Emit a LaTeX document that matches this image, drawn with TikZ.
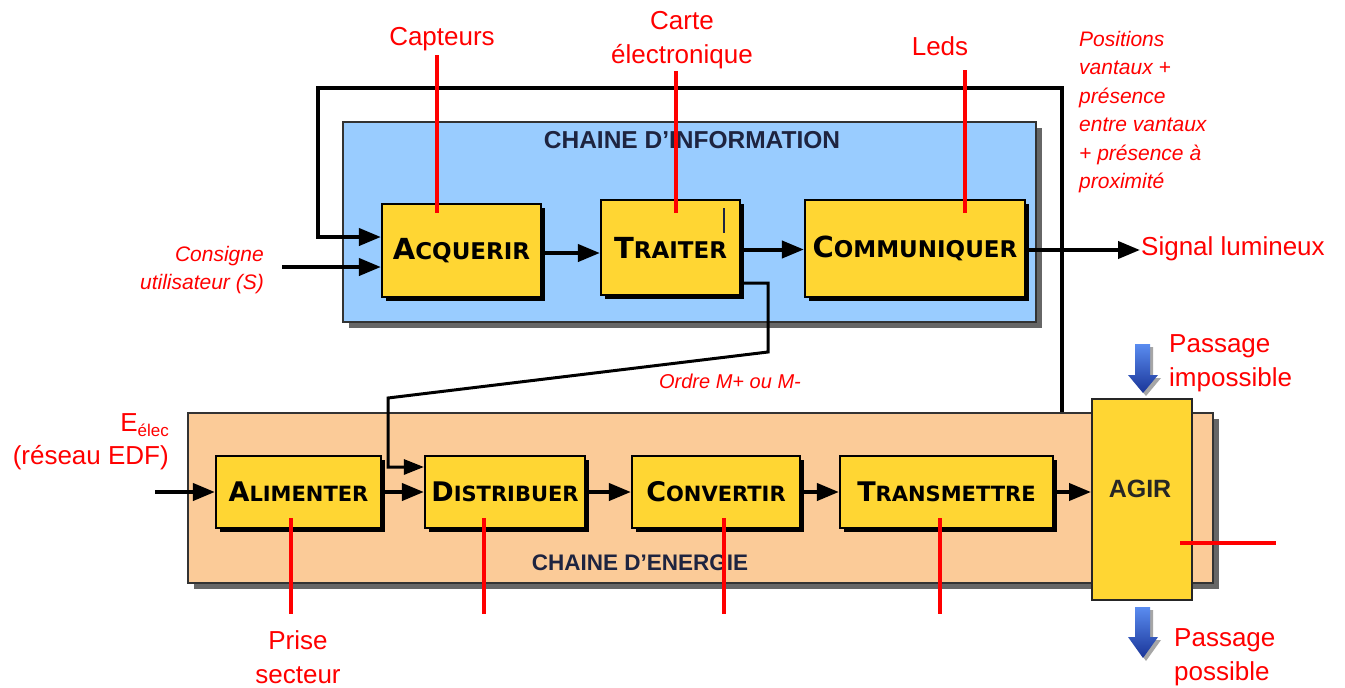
\documentclass[tikz,border=0pt]{standalone}
\usepackage{fontspec}
\setmainfont{Liberation Sans}
\newfontfamily\boxfont{DejaVu Sans}
\usetikzlibrary{arrows.meta,shadows}
\definecolor{boxyellow}{HTML}{FFD633}
\definecolor{infoblue}{HTML}{99CCFF}
\definecolor{energyorange}{HTML}{FBCB98}
\definecolor{navytitle}{HTML}{1E2440}
\definecolor{labelred}{HTML}{FF0000}
\definecolor{arrowblueA}{HTML}{5A8CF0}
\definecolor{arrowblueB}{HTML}{1A3598}
\newcommand\bigsc[2]{{\fontsize{29}{30}\selectfont #1}{\fontsize{23}{30}\selectfont #2}}
\newcommand\lowsc[2]{{\fontsize{27}{30}\selectfont #1}{\fontsize{21}{30}\selectfont #2}}
\begin{document}
\begin{tikzpicture}[x=1pt,y=-1pt,
  chainbox/.style={draw=black!80, line width=1.5pt, inner sep=0pt,
    drop shadow={shadow xshift=6pt, shadow yshift=-6pt, fill=black!60, opacity=1}},
  fblock/.style={draw=black, line width=2.2pt, fill=boxyellow, inner sep=0pt,
    font=\boxfont\bfseries,
    drop shadow={shadow xshift=4pt, shadow yshift=-4pt, fill=black, opacity=1}},
  arr/.style={line width=4pt, -{Triangle[length=22pt,width=17pt]}},
  redl/.style={draw=labelred, line width=3.5pt},
  lbl/.style={text=labelred, font=\fontsize{26}{34}\selectfont, inner sep=1pt, align=center},
  ilbl/.style={text=labelred, font=\itshape\fontsize{21}{28.4}\selectfont, inner sep=1pt},
  titletext/.style={text=navytitle, font=\bfseries\fontsize{22}{24}\selectfont, inner sep=0pt}
]
\useasboundingbox[fill=white] (0,0) rectangle (1345,688);

% chain frames
\node[chainbox, fill=infoblue, minimum width=693pt, minimum height=200pt] (info) at (689.5,222) {};
\node[chainbox, fill=energyorange, minimum width=1025pt, minimum height=170pt] (energy) at (700.5,498) {};
\node[titletext, font=\bfseries\fontsize{24.5}{26}\selectfont] (infotitle) at (692,140) {CHAINE D'INFORMATION};
\node[titletext, font=\bfseries\fontsize{22.5}{24}\selectfont] (entitle) at (640,563) {CHAINE D’ENERGIE};

% function blocks
\node[fblock, minimum width=159pt, minimum height=93pt] (acq) at (461.5,250.5) {\bigsc{A}{CQUERIR}};
\node[fblock, minimum width=139pt, minimum height=95pt] (tra) at (670.5,247.5) {\bigsc{T}{RAITER}};
\node[fblock, minimum width=220pt, minimum height=97pt] (com) at (915,248.5) {\bigsc{C}{OMMUNIQUER}};
\node[fblock, minimum width=165pt, minimum height=72pt] (ali) at (298.5,492) {\lowsc{A}{LIMENTER}};
\node[fblock, minimum width=160pt, minimum height=72pt] (dis) at (505,492) {\lowsc{D}{ISTRIBUER}};
\node[fblock, minimum width=168pt, minimum height=72pt] (cnv) at (716,492) {\lowsc{C}{ONVERTIR}};
\node[fblock, minimum width=213pt, minimum height=72pt] (trm) at (946.5,492) {\lowsc{T}{RANSMETTRE}};
\node[draw=black!85, line width=2pt, fill=boxyellow, minimum width=100pt, minimum height=201pt] (agir) at (1142,499.5) {};
\node[font=\bfseries\fontsize{25}{26}\selectfont, text=black!85] (agirtxt) at (1140,489) {AGIR};

% small cursor mark
\draw[navytitle, line width=1.2pt] (724,208) -- (724,233);

% labels
\node[lbl] (capt) at (442,39) {Capteurs};
\node[lbl] (carte) at (682,40) {Carte\\électronique};
\node[lbl] (leds) at (940,46) {Leds};
\node[ilbl, align=left, anchor=west] (pos) at (1078,112) {Positions\\vantaux +\\présence\\entre vantaux\\+ présence à\\proximité};
\node[lbl, anchor=west] (sig) at (1140,249) {Signal lumineux};
\node[ilbl, align=right, anchor=east] (cons) at (265,270) {Consigne\\utilisateur (S)};
\node[ilbl, font=\itshape\fontsize{20}{24}\selectfont] (ordre) at (730,381) {Ordre M+ ou M-};
\node[lbl, align=right, anchor=east, font=\fontsize{26}{33}\selectfont] (eelec) at (170,442) {E\raisebox{-5pt}{\fontsize{17}{17}\selectfont élec}\\(réseau EDF)};
\node[lbl] (prise) at (298,657) {Prise\\secteur};
\node[lbl, align=left, anchor=west] (pimp) at (1168,363) {Passage\\impossible};
\node[lbl, align=left, anchor=west] (pposs) at (1173,657) {Passage\\possible};

% connector coordinates
\coordinate (loopTR) at (1062,88);
\coordinate (loopTL) at (318,88);
\coordinate (consin) at (282,267);
\coordinate (ordA) at (768,352);
\coordinate (ordB) at (388,398);
\coordinate (ein) at (155,492);

% information chain connectors
\draw[arr] (loopTR |- energy.north) -- (loopTR) -- (loopTL) |- ([yshift=13.5pt]acq.west);
\draw[arr] (consin) -- (consin -| acq.west);
\draw[arr] ([yshift=-2.5pt]acq.east) -- ([yshift=-2.5pt]acq.east -| tra.west);
\draw[arr] ([yshift=-2pt]tra.east) -- ([yshift=-2pt]tra.east -| com.west);
\draw[arr] ([yshift=-1.5pt]com.east) -- ([yshift=-1.5pt]com.east -| sig.west);
\draw[line width=3pt, -{Triangle[length=20pt,width=15pt]}]
  ([yshift=-35.5pt]tra.east) -| (ordA) -- (ordB) |- ([yshift=25pt]dis.west);

% energy chain connectors
\draw[arr] (ein) -- (ali.west);
\draw[arr] (ali.east) -- (dis.west);
\draw[arr] (dis.east) -- (cnv.west);
\draw[arr] (cnv.east) -- (trm.west);
\draw[arr] (trm.east) -- (trm.east -| agir.west);

% red leader lines
\coordinate (r1a) at (437,55);  \coordinate (r1b) at (437,213);
\coordinate (r2a) at (676,71);  \coordinate (r2b) at (676,213);
\coordinate (r3a) at (965,70);  \coordinate (r3b) at (965,213);
\coordinate (r4a) at (291,518); \coordinate (r4b) at (291,614);
\coordinate (r5a) at (484,518); \coordinate (r5b) at (484,614);
\coordinate (r6a) at (724,518); \coordinate (r6b) at (724,614);
\coordinate (r7a) at (940,518); \coordinate (r7b) at (940,614);
\coordinate (r8a) at (1180,543); \coordinate (r8b) at (1276,543);
\foreach \i in {1,...,8} \draw[redl] (r\i a) -- (r\i b);

% blue block arrows
\fill[black!35] (1138,347) -- (1153,347) -- (1153,378) -- (1161,378) -- (1146,396) -- (1131,378) -- (1138,378) -- cycle;
\shade[top color=arrowblueA, bottom color=arrowblueB] (1135,344) -- (1150,344) -- (1150,375) -- (1158,375) -- (1143,393) -- (1128,375) -- (1135,375) -- cycle;
\fill[black!35] (1138,610) -- (1153,610) -- (1153,640) -- (1161,640) -- (1146,661) -- (1131,640) -- (1138,640) -- cycle;
\shade[top color=arrowblueA, bottom color=arrowblueB] (1135,607) -- (1150,607) -- (1150,637) -- (1158,637) -- (1143,658) -- (1128,637) -- (1135,637) -- cycle;
\end{tikzpicture}
\end{document}
